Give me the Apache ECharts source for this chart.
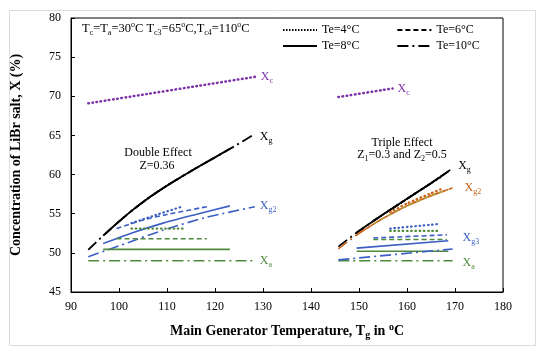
<!DOCTYPE html>
<html><head><meta charset="utf-8">
<script src="https://cdn.jsdelivr.net/npm/echarts@6/dist/echarts.min.js"></script>
<style>html,body{margin:0;padding:0;background:#fff}#c{width:550px;height:351px}</style>
</head><body><div id="c"></div>
<script>
// ---------- DATA ----------
const xTicks = [90,100,110,120,130,140,150,160,170,180];
const yTicks = [45,50,55,60,65,70,75,80];
const legendNames = ['Te=4°C','Te=6°C','Te=8°C','Te=10°C'];

// Double effect
const deXcT = [93.6, 128.5];            const deXcX = [69.1, 72.5];
const deXg10T = [93.6,97,100,103,106,109,112,116,120,124,128.3]; const deXg10X = [50.4,52.35,54.0,55.55,56.95,58.2,59.35,60.8,62.2,63.6,65.2];
const deXg8T  = [96.7,100,103,106,109,112,116,120,123.1];        const deXg8X  = [52.2,54.0,55.55,56.95,58.2,59.35,60.8,62.2,63.3];
const deXg6T  = [99.5,103,106,109,112,116,118.3];                const deXg6X  = [53.75,55.55,56.95,58.2,59.35,60.8,61.6];
const deXg4T  = [102.6,106,109,112,113.1];                       const deXg4X  = [55.35,56.95,58.2,59.35,59.75];
const deXg2_10T = [93.6,100,109.2,118,128.3];            const deXg2_10X = [49.5,50.9,52.9,54.5,55.9];
const deXg2_8T  = [96.7,103,109.2,116,123.1];            const deXg2_8X  = [51.2,52.6,53.8,54.9,56.0];
const deXg2_6T  = [99.5,105,110,118.3];                  const deXg2_6X  = [53.1,54.2,54.9,55.9];
const deXg2_4T  = [102.6,108,113.1];                     const deXg2_4X  = [53.8,54.9,55.9];
const deXa10T = [93.6,128.3]; const deXa10X = [49.0,49.0];
const deXa8T  = [96.7,123.1]; const deXa8X  = [50.45,50.45];
const deXa6T  = [99.5,118.3]; const deXa6X  = [51.8,51.8];
const deXa4T  = [102.6,113.5]; const deXa4X = [53.1,53.1];

// Triple effect
const teXcT = [145.7, 157.0];           const teXcX = [69.9, 71.0];
const teXg10T = [145.7,150,155,160,165,169]; const teXg10X = [50.8,52.8,54.9,56.9,58.9,60.6];
const teXg8T  = [149.5,155,160,165,168.6];   const teXg8X  = [52.6,54.9,56.9,58.9,60.4];
const teXg6T  = [153,155,160,165,168.3];     const teXg6X  = [54.1,54.9,56.9,58.9,60.3];
const teXg4T  = [156.5,160,165,166.9];       const teXg4X  = [55.5,56.9,58.9,59.6];
const teXg2_10T = [145.7,150,155,160,165,169.5]; const teXg2_10X = [50.5,52.5,54.4,56.0,57.3,58.3];
const teXg2_8T  = [149.5,155,160,165,168.6];     const teXg2_8X  = [52.3,54.4,56.0,57.3,58.1];
const teXg2_6T  = [153,155,160,165,168.3];       const teXg2_6X  = [53.7,54.4,56.0,57.3,58.0];
const teXg2_4T  = [156.5,160,165,167];           const teXg2_4X  = [55.2,56.3,57.6,58.1];
const teXg3_10T = [145.7,169.5]; const teXg3_10X = [49.1,50.5];
const teXg3_8T  = [149.5,168.6]; const teXg3_8X  = [50.6,51.55];
const teXg3_6T  = [153,168.3];   const teXg3_6X  = [51.9,52.3];
const teXg3_4T  = [156.5,166.9]; const teXg3_4X  = [53.1,53.7];
const teXa10T = [145.7,169.5]; const teXa10X = [49.0,49.0];
const teXa8T  = [149.5,168.6]; const teXa8X  = [50.2,50.2];
const teXa6T  = [153,168.3];   const teXa6X  = [51.7,51.7];
const teXa4T  = [156.5,166.9]; const teXa4X  = [52.8,52.8];

// ---------- STYLE ----------
const FF = '"Liberation Serif","Times New Roman",serif';
const C = {purple:'#7b2fa8', black:'#000', blue:'#3b5fc4', green:'#4f8a3c', orange:'#c8651b'};
const DASH = {4:[0.6,3.6], 6:[5,3], 8:'solid', 10:[11,4,2,4]};
const zip = (a,b)=>a.map((v,i)=>[v,b[i]]);

function sub(base, s, color){
  return {
    formatter: '{n|'+base+'}{s|'+s+'}',
    rich: { n:{fontFamily:FF,fontSize:12,color:color,lineHeight:16},
            s:{fontFamily:FF,fontSize:8,color:color,lineHeight:8,verticalAlign:'bottom'} }
  };
}
function mk(T, X, color, te, width, lbl, lblOpt){
  const s = {type:'line', data:zip(T,X), symbol:'none', silent:true, smooth:0.25,
    lineStyle:{color:color, width:width||1.6, type:DASH[te], cap: te===4?'round':'butt'},
    z: 2};
  if(lbl){ s.endLabel = Object.assign({show:true, distance:5}, sub(lbl[0], lbl[1], color), lblOpt||{}); }
  return s;
}

const series = [
  mk(deXcT, deXcX, C.purple, 4, 2.5, ['X','c']),
  mk(deXg10T, deXg10X, C.black, 10, 1.8, ['X','g'], {offset:[0,3]}),
  mk(deXg8T, deXg8X, C.black, 8, 1.8),
  mk(deXg6T, deXg6X, C.black, 6, 1.8),
  mk(deXg4T, deXg4X, C.black, 4, 1.8),
  mk(deXg2_10T, deXg2_10X, C.blue, 10, 1.6, ['X','g2'], {offset:[0,-1]}),
  mk(deXg2_8T, deXg2_8X, C.blue, 8, 1.6),
  mk(deXg2_6T, deXg2_6X, C.blue, 6, 1.6),
  mk(deXg2_4T, deXg2_4X, C.blue, 4, 2.2),
  mk(deXa10T, deXa10X, C.green, 10, 1.6, ['X','a']),
  mk(deXa8T, deXa8X, C.green, 8, 1.6),
  mk(deXa6T, deXa6X, C.green, 6, 1.6),
  mk(deXa4T, deXa4X, C.green, 4, 2.2),

  mk(teXcT, teXcX, C.purple, 4, 2.5, ['X','c']),
  mk(teXa10T, teXa10X, C.green, 10, 1.6, ['X','a'], {distance:10, offset:[0,2]}),
  mk(teXa8T, teXa8X, C.green, 8, 1.6),
  mk(teXa6T, teXa6X, C.green, 6, 1.6),
  mk(teXa4T, teXa4X, C.green, 4, 2.2),
  mk(teXg3_10T, teXg3_10X, C.blue, 10, 1.6, ['X','g3'], {distance:10, offset:[0,-11]}),
  mk(teXg3_8T, teXg3_8X, C.blue, 8, 1.6),
  mk(teXg3_6T, teXg3_6X, C.blue, 6, 1.6),
  mk(teXg3_4T, teXg3_4X, C.blue, 4, 2.2),
  mk(teXg10T, teXg10X, C.black, 10, 1.8, ['X','g'], {distance:8, offset:[0,-4]}),
  mk(teXg8T, teXg8X, C.black, 8, 1.8),
  mk(teXg6T, teXg6X, C.black, 6, 1.8),
  mk(teXg4T, teXg4X, C.black, 4, 1.8),
  mk(teXg2_10T, teXg2_10X, C.orange, 10, 1.6, ['X','g2'], {distance:12}),
  mk(teXg2_8T, teXg2_8X, C.orange, 8, 1.6),
  mk(teXg2_6T, teXg2_6X, '#b8a040', 6, 1.6),
  mk(teXg2_4T, teXg2_4X, C.orange, 4, 2.4),
];
// legend-only series
const legendTe = [4,6,8,10];
legendNames.forEach((n,i)=>series.push({type:'line', name:n, data:[], symbol:'none', symbolSize:0, showSymbol:false,
  lineStyle:{color:'#000', width:1.6, type: legendTe[i]===4 ? [1.5,1.5] : DASH[legendTe[i]]}, itemStyle:{color:'#000', opacity:0}}));

const legTxt = {fontFamily:FF, fontSize:12, color:'#000'};
const legCommon = {left:277, itemWidth:34, itemHeight:14, itemGap:37, textStyle:legTxt, selectedMode:false,
  itemStyle:{opacity:0}};
const chart = echarts.init(document.getElementById('c'), null, {renderer:'canvas'});
chart.setOption({
  animation:false,
  backgroundColor:'#fff',
  grid:{left:71, top:18, right:47, bottom:59, show:true, borderColor:'#000', borderWidth:1},
  legend:[
    Object.assign({data:[legendNames[0],legendNames[1]], top:19}, legCommon),
    Object.assign({data:[legendNames[2],legendNames[3]], top:35}, legCommon)
  ],
  xAxis:{type:'value', min:xTicks[0], max:xTicks[xTicks.length-1], interval:10,
    axisLine:{lineStyle:{color:'#000',width:1}}, axisTick:{inside:true,length:4,lineStyle:{color:'#000'}},
    splitLine:{show:false}, axisLabel:{fontFamily:FF,fontSize:12,color:'#000',margin:9},
    name:'{b|Main Generator Temperature, T}{bs|g}{b| in }{bp|o}{b|C}', nameLocation:'middle', nameGap:30,
    nameTextStyle:{rich:{
      b:{fontFamily:FF,fontSize:14,fontWeight:'bold',color:'#000',lineHeight:18},
      bs:{fontFamily:FF,fontSize:10,fontWeight:'bold',color:'#000',lineHeight:9,verticalAlign:'bottom'},
      bp:{fontFamily:FF,fontSize:10,fontWeight:'bold',color:'#000',lineHeight:9,verticalAlign:'top'}}}},
  yAxis:{type:'value', min:yTicks[0], max:yTicks[yTicks.length-1], interval:5,
    axisLine:{show:true,lineStyle:{color:'#000',width:1}}, axisTick:{show:true,inside:true,length:4,lineStyle:{color:'#000'}},
    splitLine:{show:false}, axisLabel:{fontFamily:FF,fontSize:12,color:'#000',margin:10},
    name:'Concentration of LiBr salt, X (%)', nameLocation:'middle', nameGap:48, nameRotate:90,
    nameTextStyle:{fontFamily:FF,fontSize:14,fontWeight:'bold',color:'#000'}},
  graphic:[
    {type:'rect', left:7, top:8, shape:{width:526, height:335}, style:{fill:'none', stroke:'#dcdcdc', lineWidth:1}, silent:true},
    {type:'text', left:82, top:21, style:{
      text:'{n|T}{s|c}{n|=T}{s|a}{n|=30}{p|o}{n|C T}{s|c3}{n|=65}{p|o}{n|C,T}{s|c4}{n|=110}{p|o}{n|C}',
      rich:{n:{fontFamily:FF,fontSize:12.5,fill:'#000',lineHeight:16},
            s:{fontFamily:FF,fontSize:8,fill:'#000',lineHeight:8,verticalAlign:'bottom'},
            p:{fontFamily:FF,fontSize:8,fill:'#000',lineHeight:8,verticalAlign:'top'}}}},
    {type:'text', x:158, y:153, style:{text:'Double Effect', font:'12px '+FF, fill:'#000', align:'center', verticalAlign:'middle'}},
    {type:'text', x:157, y:166, style:{text:'Z=0.36', font:'12px '+FF, fill:'#000', align:'center', verticalAlign:'middle'}},
    {type:'text', x:402, y:143, style:{text:'Triple Effect', font:'12px '+FF, fill:'#000', align:'center', verticalAlign:'middle'}},
    {type:'text', x:402, y:155, style:{
      text:'{n|Z}{s|1}{n|=0.3 and Z}{s|2}{n|=0.5}', align:'center', verticalAlign:'middle',
      rich:{n:{fontFamily:FF,fontSize:12,fill:'#000',lineHeight:16},
            s:{fontFamily:FF,fontSize:8,fill:'#000',lineHeight:8,verticalAlign:'bottom'}}}}
  ],
  series: series
});
</script></body></html>
